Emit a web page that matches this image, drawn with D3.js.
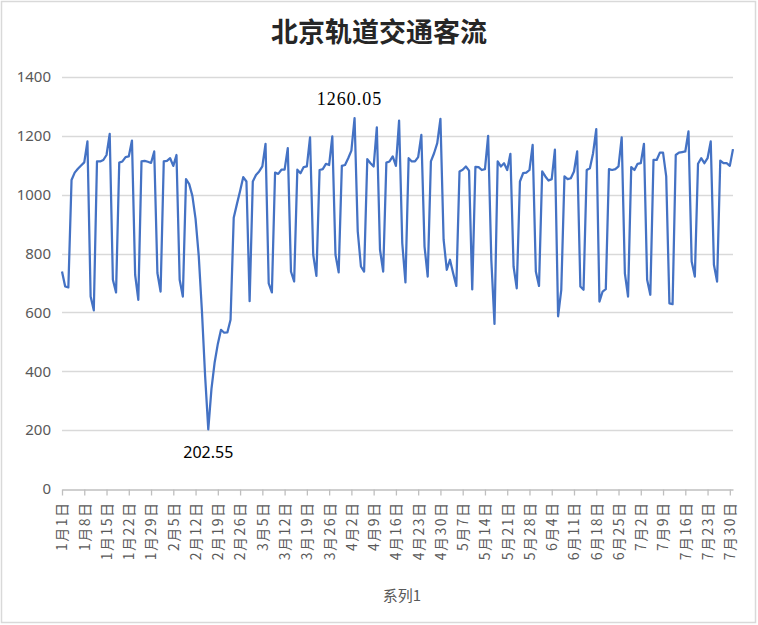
<!DOCTYPE html>
<html>
<head>
<meta charset="utf-8">
<script src="https://cdn.jsdelivr.net/npm/d3@7"></script>
<style>
  body { margin: 0; background: #fff; }
  svg { display: block; }
</style>
</head>
<body>
<div id="chart"></div>
<script>
// Daily ridership, 1月1日 .. 7月31日 (one value per day)
var values = [
  739, 688, 685, 1050, 1075, 1088, 1099, 1110, 1181, 654, 607,
  1113, 1113, 1118, 1135, 1207, 711, 668,
  1109, 1113, 1128, 1130, 1184, 728, 643,
  1113, 1115, 1112, 1108, 1147, 734, 671,
  1113, 1115, 1124, 1098, 1135, 711, 654,
  1053, 1036, 996, 918, 792, 605, 385,
  202.55, 340, 430, 493, 541, 531, 532,
  575, 922, 968, 1013, 1060, 1045, 638,
  1045, 1067, 1079, 1096, 1173, 699, 668,
  1075, 1071, 1085, 1085, 1158, 739, 705,
  1085, 1073, 1094, 1096, 1195, 796, 724,
  1084, 1087, 1105, 1101, 1198, 796, 736,
  1098, 1101, 1124, 1150, 1260.05, 875, 756,
  739, 1121, 1107, 1096, 1229, 813, 739,
  1109, 1113, 1130, 1098, 1252, 835, 702,
  1124, 1113, 1113, 1128, 1203, 824, 722,
  1113, 1141, 1175, 1258, 847, 745, 779,
  733, 690, 1079, 1085, 1096, 1082, 678,
  1095, 1094, 1084, 1087, 1200, 779, 561,
  1113, 1096, 1107, 1084, 1139, 756, 682,
  1045, 1073, 1075, 1084, 1169, 739, 690,
  1079, 1062, 1048, 1053, 1153, 587, 677,
  1062, 1053, 1056, 1079, 1147, 688, 677,
  1084, 1090, 1141, 1223, 637, 671, 679,
  1087, 1084, 1087, 1096, 1195, 733, 654,
  1094, 1084, 1105, 1107, 1173, 711, 660,
  1118, 1118, 1143, 1143, 1062, 631, 628,
  1135, 1143, 1145, 1147, 1215, 773, 722,
  1105, 1124, 1107, 1124, 1181, 762, 705,
  1116, 1107, 1107, 1098, 1155
];

// Category labels shown on the axis (every 7th day)
var tickLabels = [
  "1月1日", "1月8日", "1月15日", "1月22日", "1月29日", "2月5日", "2月12日",
  "2月19日", "2月26日", "3月5日", "3月12日", "3月19日", "3月26日", "4月2日",
  "4月9日", "4月16日", "4月23日", "4月30日", "5月7日", "5月14日", "5月21日",
  "5月28日", "6月4日", "6月11日", "6月18日", "6月25日", "7月2日", "7月9日",
  "7月16日", "7月23日", "7月30日"
];

var yTicks = [0, 200, 400, 600, 800, 1000, 1200, 1400];

var title     = "北京轨道交通客流",
    axisTitle = "系列1";

var width  = 758,
    height = 625,
    margin = {top: 77, right: 25, bottom: 136, left: 62};

var svg = d3.select("#chart")
  .append("svg")
    .attr("width", width)
    .attr("height", height);

// Outer chart border
svg.append("rect")
    .attr("x", 1.5)
    .attr("y", 1.5)
    .attr("width", width - 4)
    .attr("height", height - 4)
    .style("fill", "#fff")
    .style("stroke", "#d9d9d9")
    .style("stroke-width", 1.5);

var x = d3.scaleLinear()
    .domain([0, values.length - 1])
    .range([margin.left, width - margin.right]);

var y = d3.scaleLinear()
    .domain([0, 1400])
    .range([height - margin.bottom, margin.top]);

// Horizontal gridlines
svg.append("g")
    .attr("class", "grid")
  .selectAll("line")
  .data(yTicks.slice(1))
  .enter()
  .append("line")
    .attr("x1", x.range()[0])
    .attr("x2", x.range()[1])
    .attr("y1", function(d) { return Math.round(y(d)) + 0.5; })
    .attr("y2", function(d) { return Math.round(y(d)) + 0.5; })
    .style("stroke", "#d9d9d9")
    .style("stroke-width", 1.3);

// Y axis: labels only
var yAxis = svg.append("g")
    .attr("transform", "translate(" + (margin.left - 11) + ",0)")
    .call(d3.axisLeft(y).tickValues(yTicks).tickFormat(d3.format("d")).tickSize(0).tickPadding(0));
yAxis.select(".domain").remove();
yAxis.selectAll("text")
    .style("font-family", "'Noto Sans', 'DejaVu Sans', sans-serif")
    .style("font-size", "15px")
    .style("fill", "#595959");

// X axis: line, ticks every 7 days, rotated labels
var xAxis = svg.append("g")
    .attr("transform", "translate(0," + (Math.round(y(0)) + 0.5) + ")")
    .call(d3.axisBottom(x)
      .tickValues(d3.range(0, values.length, 7))
      .tickFormat(function(d, i) { return tickLabels[i]; })
      .tickSizeInner(6)
      .tickSizeOuter(0));
xAxis.select(".domain")
    .style("stroke", "#bfbfbf")
    .style("stroke-width", 1.3);
xAxis.selectAll(".tick line")
    .style("stroke", "#bfbfbf")
    .style("stroke-width", 1.3);
xAxis.selectAll("text")
    .attr("transform", "rotate(-90)")
    .attr("x", -12)
    .attr("y", 0)
    .attr("dy", "0.35em")
    .style("text-anchor", "end")
    .style("font-family", "'Noto Sans CJK SC', sans-serif")
    .style("font-size", "14px")
    .style("letter-spacing", "1.5px")
    .style("fill", "#595959");

// The series line
var line = d3.line()
    .x(function(d, i) { return x(i); })
    .y(function(d) { return y(d); });

svg.append("path")
    .datum(values)
    .attr("d", line)
    .style("fill", "none")
    .style("stroke", "#4472c4")
    .style("stroke-width", 2.25)
    .style("stroke-linejoin", "round");

// Max / min data labels
var maxIdx = d3.maxIndex(values),
    minIdx = d3.minIndex(values);

svg.append("text")
    .attr("x", x(maxIdx) - 5)
    .attr("y", y(values[maxIdx]) - 13)
    .attr("text-anchor", "middle")
    .style("font-family", "'Liberation Serif', serif")
    .style("font-size", "18px")
    .style("letter-spacing", "1px")
    .style("fill", "#000")
    .text(values[maxIdx].toFixed(2));

svg.append("text")
    .attr("x", x(minIdx))
    .attr("y", y(values[minIdx]) + 29)
    .attr("text-anchor", "middle")
    .style("font-family", "'Noto Sans', sans-serif")
    .style("font-size", "16px")
    .style("fill", "#000")
    .text(values[minIdx].toFixed(2));

// Title
svg.append("text")
    .attr("x", width / 2)
    .attr("y", 42)
    .attr("text-anchor", "middle")
    .style("font-family", "'Noto Sans CJK SC', sans-serif")
    .style("font-size", "27px")
    .style("font-weight", "bold")
    .style("fill", "#262626")
    .text(title);

// Axis title
svg.append("text")
    .attr("x", 402)
    .attr("y", 601)
    .attr("text-anchor", "middle")
    .style("font-family", "'Noto Sans CJK SC', sans-serif")
    .style("font-size", "15px")
    .style("fill", "#595959")
    .text(axisTitle);
</script>
</body>
</html>
